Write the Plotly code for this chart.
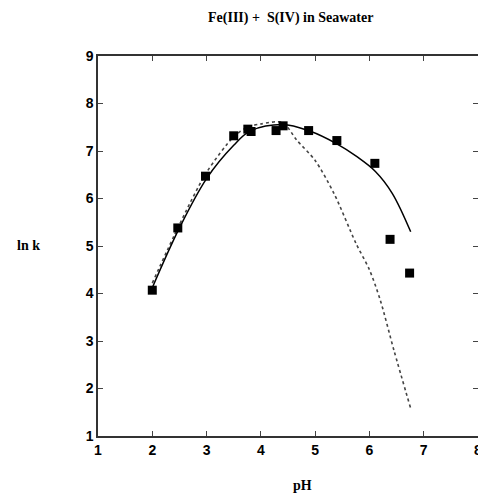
import plotly.graph_objects as go

# measured data (squares)
ph_obs = [2.0, 2.47, 2.98, 3.50, 3.76, 3.82, 4.28, 4.41, 4.88, 5.40, 6.10, 6.38, 6.74]
lnk_obs = [4.07, 5.38, 6.47, 7.32, 7.46, 7.41, 7.43, 7.53, 7.43, 7.22, 6.74, 5.14, 4.43]

# model curve (solid)
ph_solid = [2.0, 2.5, 3.0, 3.5, 3.8, 4.4, 4.9, 5.4, 5.77, 6.11, 6.42, 6.76]
lnk_solid = [4.12, 5.38, 6.42, 7.12, 7.42, 7.56, 7.42, 7.15, 6.88, 6.57, 6.11, 5.30]

# alternative model curve (dotted)
ph_dot = [2.0, 2.5, 3.0, 3.5, 3.75, 4.0, 4.4, 4.66, 5.0, 5.35, 5.75, 6.0, 6.2, 6.45, 6.76]
lnk_dot = [4.22, 5.45, 6.55, 7.3, 7.5, 7.57, 7.6, 7.23, 6.8, 6.1, 5.06, 4.5, 3.86, 2.81, 1.58]

x_ticks = [1, 2, 3, 4, 5, 6, 7, 8]
y_ticks = [1, 2, 3, 4, 5, 6, 7, 8, 9]

fig = go.Figure()
fig.add_trace(go.Scatter(x=ph_dot, y=lnk_dot, mode="lines",
                         line=dict(color="#444444", width=1.6, dash="dot", shape="spline", smoothing=0.8),
                         showlegend=False))
fig.add_trace(go.Scatter(x=ph_solid, y=lnk_solid, mode="lines",
                         line=dict(color="black", width=1.5, shape="spline"),
                         showlegend=False))
fig.add_trace(go.Scatter(x=ph_obs, y=lnk_obs, mode="markers",
                         marker=dict(symbol="square", size=9, color="black"),
                         showlegend=False))

tickfont = dict(family="Liberation Sans, Arial, sans-serif", size=14, color="black", weight="bold")
fig.update_xaxes(range=[1, 8], tickvals=x_ticks, ticks="inside", ticklen=5, tickwidth=1.2,
                 showline=True, linecolor="#333333", linewidth=1.5, mirror="ticks",
                 showgrid=False, zeroline=False, tickfont=tickfont, automargin=False,
                 ticklabeloverflow="allow")
fig.update_yaxes(range=[1, 9], tickvals=y_ticks, ticks="inside", ticklen=5, tickwidth=1.2,
                 showline=True, linecolor="#333333", linewidth=1.5, mirror="ticks",
                 showgrid=False, zeroline=False, tickfont=tickfont, automargin=False,
                 ticklabeloverflow="allow")

serif = dict(family="Liberation Serif, Times New Roman, serif", size=14, color="black", weight="bold")
W, H, L, R, T, B = 478, 495, 98, 0, 56, 59
pw, ph = W - L - R, H - T - B


def px2paper(px, py):
    return (px - L) / pw, (H - B - py) / ph


labels = [("Fe(III) +  S(IV) in Seawater", 290, 18), ("ln k", 28, 245), ("pH", 302, 485)]
annotations = []
for text, px, py in labels:
    ax, ay = px2paper(px, py)
    annotations.append(dict(text=text, x=ax, y=ay, xref="paper", yref="paper",
                            xanchor="center", yanchor="middle", showarrow=False, font=serif))

fig.update_layout(
    width=W, height=H,
    margin=dict(l=L, r=R, t=T, b=B),
    paper_bgcolor="white", plot_bgcolor="white",
    annotations=annotations,
)

fig.write_html("out.html", config={"displayModeBar": False},
               post_script="document.body.style.margin='0px';document.body.style.overflow='hidden';")
